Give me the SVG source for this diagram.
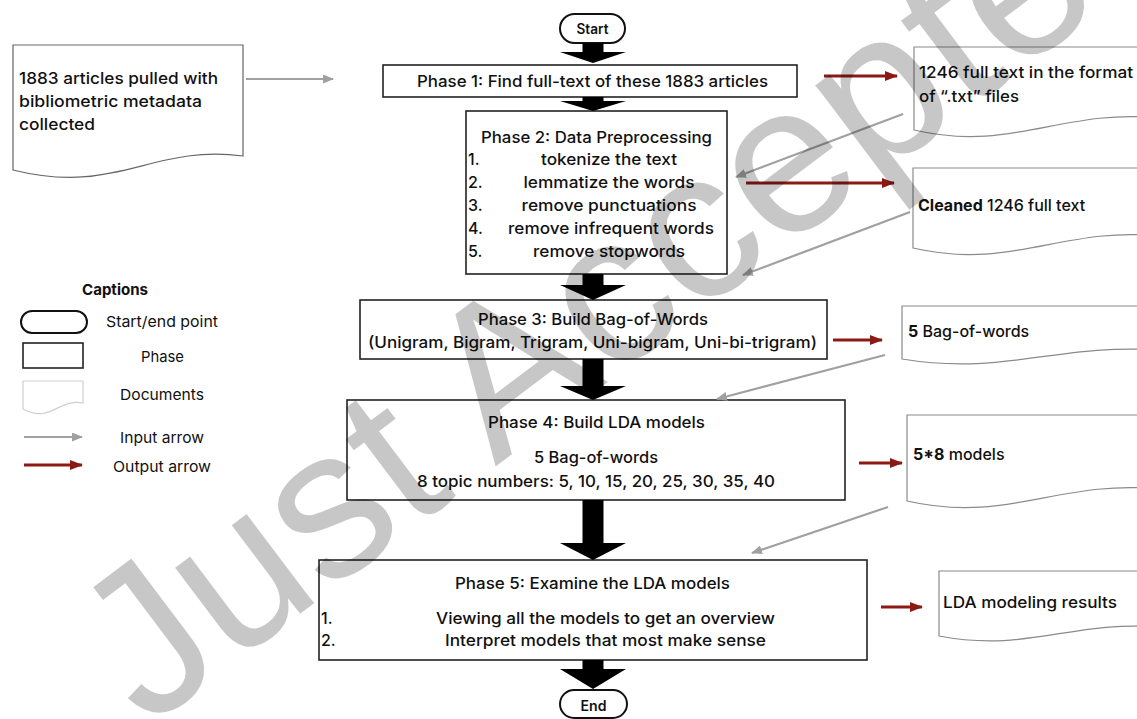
<svg xmlns="http://www.w3.org/2000/svg" width="1137" height="719" viewBox="0 0 1137 719">
  <defs>
    <style>
      text { font-family: Inter, "Liberation Sans", Arial, sans-serif; fill: #111; }
      .t { font-size: 16px; font-weight: 500; }
      .c { text-anchor: middle; }
      .cap { font-size: 15px; font-weight: 400; }
      .phase { fill: #fff; stroke: #222; stroke-width: 1.6; }
      .pill { fill: #fff; stroke: #111; stroke-width: 2; }
      .doc { fill: #fff; stroke: #8a8a8a; stroke-width: 1.2; }
      .doc-light { fill: #fff; stroke: #cfcfcf; stroke-width: 1.2; }
      .in { stroke: #a0a0a0; stroke-width: 2.2; fill: none; marker-end: url(#ah-in); }
      .out { stroke: #8b1a14; stroke-width: 3; fill: none; marker-end: url(#ah-out); }
      .blk { fill: #000; }
      .wm { font-family: "Liberation Sans", Arial, sans-serif; font-size: 212px; fill: #000; fill-opacity: 0.22; }
    </style>
    <marker id="ah-in" markerWidth="11" markerHeight="9" refX="10" refY="4.5" orient="auto" markerUnits="userSpaceOnUse">
      <path d="M0,0 L11,4.5 L0,9 z" fill="#a0a0a0"/>
    </marker>
    <marker id="ah-out" markerWidth="13" markerHeight="10" refX="12" refY="5" orient="auto" markerUnits="userSpaceOnUse">
      <path d="M0,0 L13,5 L0,10 z" fill="#8b1a14"/>
    </marker>
  </defs>

  <rect width="1137" height="719" fill="#fff"/>

  <!-- flow: start / end terminals -->
  <g id="start">
    <rect class="pill" x="560" y="14" width="65" height="29" rx="14.5"/>
    <text class="t c" x="592.5" y="34" style="font-size:14px;font-weight:600" textLength="32" lengthAdjust="spacingAndGlyphs">Start</text>
  </g>
  <g id="end">
    <rect class="pill" x="560" y="690" width="67" height="28" rx="14"/>
    <text class="t c" x="593.5" y="711" style="font-size:14px;font-weight:600" textLength="26" lengthAdjust="spacingAndGlyphs">End</text>
  </g>

  <!-- phases -->
  <g id="phase1">
    <rect class="phase" x="383" y="65" width="414" height="32"/>
    <text class="t c" x="592.5" y="87" textLength="351" lengthAdjust="spacingAndGlyphs">Phase 1: Find full-text of these 1883 articles</text>
  </g>

  <g id="phase2">
    <rect class="phase" x="466" y="111" width="261" height="163"/>
    <text class="t c" x="596.5" y="143" textLength="231" lengthAdjust="spacingAndGlyphs">Phase 2: Data Preprocessing</text>
    <text class="t" x="468" y="165">1.</text>
    <text class="t c" x="609" y="165" textLength="136" lengthAdjust="spacingAndGlyphs">tokenize the text</text>
    <text class="t" x="468" y="188">2.</text>
    <text class="t c" x="609" y="188" textLength="171" lengthAdjust="spacingAndGlyphs">lemmatize the words</text>
    <text class="t" x="468" y="211">3.</text>
    <text class="t c" x="609" y="211" textLength="175" lengthAdjust="spacingAndGlyphs">remove punctuations</text>
    <text class="t" x="468" y="234">4.</text>
    <text class="t c" x="611" y="234" textLength="206" lengthAdjust="spacingAndGlyphs">remove infrequent words</text>
    <text class="t" x="468" y="257">5.</text>
    <text class="t c" x="609" y="257" textLength="152" lengthAdjust="spacingAndGlyphs">remove stopwords</text>
  </g>

  <g id="phase3">
    <rect class="phase" x="360" y="300" width="467" height="59"/>
    <text class="t c" x="593" y="325" textLength="230" lengthAdjust="spacingAndGlyphs">Phase 3: Build Bag-of-Words</text>
    <text class="t c" x="592.5" y="348" textLength="449" lengthAdjust="spacingAndGlyphs">(Unigram, Bigram, Trigram, Uni-bigram, Uni-bi-trigram)</text>
  </g>

  <g id="phase4">
    <rect class="phase" x="347" y="400" width="498" height="100"/>
    <text class="t c" x="596.5" y="428" textLength="217" lengthAdjust="spacingAndGlyphs">Phase 4: Build LDA models</text>
    <text class="t c" x="596" y="463" textLength="124" lengthAdjust="spacingAndGlyphs">5 Bag-of-words</text>
    <text class="t c" x="596" y="487" textLength="358" lengthAdjust="spacingAndGlyphs">8 topic numbers: 5, 10, 15, 20, 25, 30, 35, 40</text>
  </g>

  <g id="phase5">
    <rect class="phase" x="319" y="560" width="548" height="100"/>
    <text class="t c" x="592.5" y="589" textLength="275" lengthAdjust="spacingAndGlyphs">Phase 5: Examine the LDA models</text>
    <text class="t" x="321" y="624">1.</text>
    <text class="t c" x="605.5" y="624" textLength="339" lengthAdjust="spacingAndGlyphs">Viewing all the models to get an overview</text>
    <text class="t" x="321" y="646">2.</text>
    <text class="t c" x="605.5" y="646" textLength="321" lengthAdjust="spacingAndGlyphs">Interpret models that most make sense</text>
  </g>

  <!-- documents -->
  <g id="doc-articles">
    <path class="doc" style="stroke:#666" d="M13,45 H243 V156 C151,144 117,196 13,170 Z"/>
    <text class="t" x="19" y="84" textLength="199" lengthAdjust="spacingAndGlyphs">1883 articles pulled with</text>
    <text class="t" x="19" y="107" textLength="183" lengthAdjust="spacingAndGlyphs">bibliometric metadata</text>
    <text class="t" x="19" y="130" textLength="76" lengthAdjust="spacingAndGlyphs">collected</text>
  </g>

  <g id="doc-fulltext">
    <path class="doc" d="M914,47 H1160 V118 C1062,108 1012,153 914,130 Z"/>
    <text class="t" x="919" y="78" textLength="214" lengthAdjust="spacingAndGlyphs">1246 full text in the format</text>
    <text class="t" x="919" y="102" textLength="100" lengthAdjust="spacingAndGlyphs">of “.txt” files</text>
  </g>

  <g id="doc-cleaned">
    <path class="doc" d="M913,168 H1160 V236 C1062,226 1012,271 913,248 Z"/>
    <text class="t" x="918" y="211"><tspan style="font-weight:700">Cleaned</tspan> 1246 full text</text>
  </g>

  <g id="doc-bow">
    <path class="doc" d="M902,306 H1160 V350 C1057,343 1005,376 902,359 Z"/>
    <text class="t" x="908" y="337"><tspan style="font-weight:700">5</tspan> Bag-of-words</text>
  </g>

  <g id="doc-models">
    <path class="doc" d="M907,415 H1160 V489 C1059,479 1008,524 907,501 Z"/>
    <text class="t" x="913" y="460"><tspan style="font-weight:700">5*8</tspan> models</text>
  </g>

  <g id="doc-results">
    <path class="doc" d="M939,571 H1160 V627 C1072,620 1027,653 939,636 Z"/>
    <text class="t" x="943" y="608" textLength="174" lengthAdjust="spacingAndGlyphs">LDA modeling results</text>
  </g>

  <!-- connectors -->
  <g id="connectors">
    <!-- block flow arrows -->
    <polygon class="blk" points="582.5,43 603.5,43 603.5,52 626,52 593,63 560,52 582.5,52"/>
    <polygon class="blk" points="582.5,97 603.5,97 603.5,101 626,101 593,111 560,101 582.5,101"/>
    <polygon class="blk" points="582.5,274 603.5,274 603.5,285 626,285 593,300 560,285 582.5,285"/>
    <polygon class="blk" points="582.5,359 603.5,359 603.5,386 626,386 593,400 560,386 582.5,386"/>
    <polygon class="blk" points="582.5,500 603.5,500 603.5,543 626,543 593,560 560,543 582.5,543"/>
    <polygon class="blk" points="582.5,660 603.5,660 603.5,669 626,669 593,689 560,669 582.5,669"/>

    <!-- input arrows -->
    <line class="in" x1="246" y1="79" x2="333" y2="79"/>
    <line class="in" x1="903" y1="114" x2="736" y2="177"/>
    <line class="in" x1="910" y1="212" x2="743" y2="275"/>
    <line class="in" x1="885" y1="355" x2="717" y2="399"/>
    <line class="in" x1="888" y1="507" x2="752" y2="553"/>

    <!-- output arrows -->
    <line class="out" x1="824" y1="76" x2="897" y2="76"/>
    <line class="out" x1="746" y1="183" x2="894" y2="183"/>
    <line class="out" x1="833" y1="340" x2="882" y2="340"/>
    <line class="out" x1="859" y1="463" x2="902" y2="463"/>
    <line class="out" x1="881" y1="607" x2="922" y2="607"/>
  </g>

  <!-- legend -->
  <g id="captions">
    <text class="cap" x="82" y="295" style="font-weight:700" textLength="66" lengthAdjust="spacingAndGlyphs">Captions</text>
    <rect class="pill" x="21" y="311" width="66" height="22" rx="11"/>
    <text class="cap" x="106" y="327" textLength="112" lengthAdjust="spacingAndGlyphs">Start/end point</text>
    <rect class="phase" x="23" y="343" width="60" height="25"/>
    <text class="cap" x="141" y="362" textLength="43" lengthAdjust="spacingAndGlyphs">Phase</text>
    <path class="doc-light" d="M23,381 H83 V403 C59,398 50,424 23,409 Z"/>
    <text class="cap" x="120" y="400" textLength="84" lengthAdjust="spacingAndGlyphs">Documents</text>
    <line class="in" x1="24" y1="437" x2="82" y2="437"/>
    <text class="cap" x="120" y="443" textLength="84" lengthAdjust="spacingAndGlyphs">Input arrow</text>
    <line class="out" x1="24" y1="465" x2="82" y2="465"/>
    <text class="cap" x="113" y="472" textLength="98" lengthAdjust="spacingAndGlyphs">Output arrow</text>
  </g>

  <!-- diagonal stamp -->
  <text class="wm c" transform="translate(674,332) rotate(-37)">Just Accepted</text>
</svg>
